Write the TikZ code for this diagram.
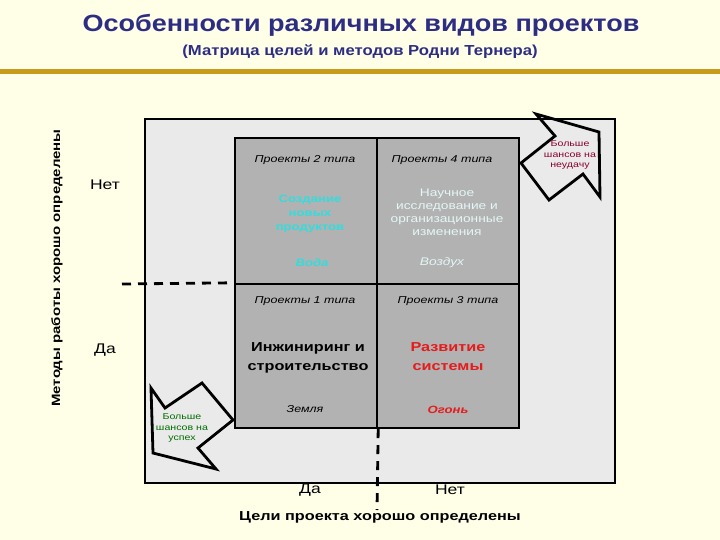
\documentclass[tikz,border=0pt]{standalone}
\usepackage{fontspec}
\setmainfont{Liberation Sans}[FakeStretch=1.25]
\newfontfamily\titlefont{Liberation Sans}[FakeStretch=1.15]
\definecolor{bg}{RGB}{255,255,232}
\definecolor{navy}{RGB}{45,45,132}
\definecolor{gold}{RGB}{200,155,28}
\definecolor{boxgray}{RGB}{234,234,234}
\definecolor{cellgray}{RGB}{178,178,178}
\definecolor{cyantxt}{RGB}{51,221,221}
\definecolor{lighttxt}{RGB}{228,246,246}
\definecolor{redtxt}{RGB}{228,28,28}
\definecolor{darkred}{RGB}{140,0,50}
\definecolor{greentxt}{RGB}{0,110,0}
\tikzset{
  cellbox/.style={draw=black, line width=2.4pt, fill=cellgray, minimum width=142pt, inner sep=0pt},
  hdr/.style={font=\fontsize{10}{11}\selectfont\itshape, inner sep=0pt},
  maintxt/.style={align=center, inner sep=0pt},
  dashline/.style={line width=2.8pt, dash pattern=on 9pt off 7pt},
  blockarrow/.style={line width=2.8pt, line join=miter},
  axistxt/.style={font=\fontsize{14}{16}\selectfont, inner sep=0pt},
  arrowtxt/.style={font=\fontsize{8.5}{10.5}\selectfont, align=center, inner sep=0pt}
}
\begin{document}
\begin{tikzpicture}[x=1pt, y=-1pt]
\fill[bg] (0,0) rectangle (720,540);
\useasboundingbox (0,0) rectangle (720,540);
% header
\node[text=navy, font=\titlefont\fontsize{23.5}{26}\selectfont\bfseries, inner sep=0pt] (title) at (361,25) {Особенности различных видов проектов};
\node[text=navy, font=\titlefont\fontsize{14.5}{16}\selectfont\bfseries, inner sep=0pt] (subtitle) at (360,52) {(Матрица целей и методов Родни Тернера)};
\fill[gold] (0,69.5) rectangle (720,74);
% outer frame
\node[draw=black, line width=2.4pt, fill=boxgray, minimum width=470pt, minimum height=364pt, inner sep=0pt] (frame) at (380,301) {};
% cells
\node[cellbox, minimum height=146pt] (c2) at (306,211) {};
\node[cellbox, minimum height=146pt] (c4) at (448,211) {};
\node[cellbox, minimum height=144pt] (c1) at (306,356) {};
\node[cellbox, minimum height=144pt] (c3) at (448,356) {};
% cell texts
\node[hdr] (h2) at (305,160) {Проекты 2 типа};
\node[hdr] (h4) at (442,160) {Проекты 4 типа};
\node[hdr] (h1) at (305,301) {Проекты 1 типа};
\node[hdr] (h3) at (448,301) {Проекты 3 типа};
\node[maintxt, text=cyantxt, font=\fontsize{10.5}{14}\selectfont\bfseries] (m2) at (310,214) {Создание\\новых\\продуктов};
\node[maintxt, text=lighttxt, font=\fontsize{11}{13}\selectfont] (m4) at (447,212) {Научное\\исследование и\\организационные\\изменения};
\node[maintxt, text=black, font=\fontsize{13}{19}\selectfont\bfseries] (m1) at (308,358) {Инжиниринг и\\строительство};
\node[maintxt, text=redtxt, font=\fontsize{13}{19}\selectfont\bfseries] (m3) at (448,357) {Развитие\\системы};
\node[text=cyantxt, font=\fontsize{10.5}{12}\selectfont\bfseries\itshape, inner sep=0pt] (e2) at (312,263) {Вода};
\node[text=lighttxt, font=\fontsize{11}{12}\selectfont\itshape, inner sep=0pt] (e4) at (442,263) {Воздух};
\node[text=black, font=\fontsize{10}{12}\selectfont\itshape, inner sep=0pt] (e1) at (305,409) {Земля};
\node[text=redtxt, font=\fontsize{10.5}{12}\selectfont\bfseries\itshape, inner sep=0pt] (e3) at (448,410) {Огонь};
% dashed dividers
\coordinate (hd) at (122,284);
\coordinate (vd) at (377,510);
\draw[dashline] (hd) -- (c1.north west);
\draw[dashline] (c1.south east) -- (vd);
% block arrows
\draw[blockarrow] (536,114) -- (555,136) -- (521,163) -- (549,200) -- (583,174) -- (600,197) -- (599,132) -- cycle;
\node[arrowtxt, text=darkred] (fail) at (570,155) {Больше\\шансов на\\неудачу};
\draw[blockarrow] (151,388) -- (165,408) -- (202,383) -- (233,420) -- (198,448) -- (216,469) -- (153,453) -- cycle;
\node[arrowtxt, text=greentxt] (succ) at (182,428) {Больше\\шансов на\\успех};
% axis labels
\node[axistxt] (no1) at (105,185) {Нет};
\node[axistxt] (yes1) at (105,350) {Да};
\node[axistxt] (yes2) at (310,490) {Да};
\node[axistxt] (no2) at (450,490) {Нет};
\node[font=\fontsize{13}{15}\selectfont\bfseries, inner sep=0pt] (xlab) at (380,517) {Цели проекта хорошо определены};
\node[font=\fontsize{12}{15}\selectfont\bfseries, inner sep=0pt, rotate=90] (ylab) at (57,268) {Методы работы хорошо определены};
\end{tikzpicture}
\end{document}
